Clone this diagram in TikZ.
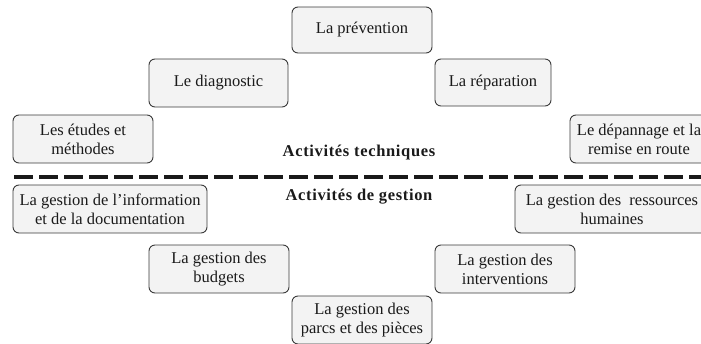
\documentclass[tikz,border=0pt]{standalone}
\usepackage{fontspec}
\setmainfont{Liberation Serif}
\definecolor{boxfill}{HTML}{F3F3F3}
\definecolor{boxline}{HTML}{3A3A3A}
\definecolor{txt}{HTML}{1A1A1A}
\begin{document}
\begin{tikzpicture}[x=1pt,y=-1pt,
  box/.style={draw=boxline, line width=0.9pt, fill=boxfill, rounded corners=6pt,
    align=center, inner sep=0pt, text=txt,
    font=\fontsize{16.5}{19}\selectfont},
  cat/.style={text=txt, font=\fontsize{16.5}{19}\selectfont\bfseries\addfontfeature{LetterSpace=4}},
  sep/.style={line width=3.2pt, dash pattern=on 19pt off 6pt, draw=black!90}]
\useasboundingbox (0,0) rectangle (701,343);
\begin{scope}
\clip (0,0) rectangle (701,343);
\node[box, minimum width=140pt, minimum height=46pt] (prev) at (362,30) {La prévention};
\node[box, minimum width=139pt, minimum height=48pt] (diag) at (218.5,83) {Le diagnostic};
\node[box, minimum width=116pt, minimum height=47pt] (rep) at (493,82.5) {La réparation};
\node[box, minimum width=140pt, minimum height=48pt] (etud) at (83,139) {Les études et\\méthodes};
\node[box, minimum width=138pt, minimum height=48pt] (dep) at (639,139) {Le dépannage et la\\remise en route};
\node[box, minimum width=194pt, minimum height=48pt] (info) at (110,209) {La gestion de l’information\\et de la documentation};
\node[box, minimum width=194pt, minimum height=48pt] (rh) at (612,209) {La gestion des\ \ ressources\\humaines};
\node[box, minimum width=140pt, minimum height=48pt] (budg) at (219,269) {La gestion des\\budgets};
\node[box, minimum width=140pt, minimum height=48pt] (interv) at (505,269) {La gestion des\\interventions};
\node[box, minimum width=140pt, minimum height=48pt] (parcs) at (362,320) {La gestion des\\parcs et des pièces};
\coordinate (sl) at (14,177);
\coordinate (sr) at (705,177);
\draw[sep] (sl) -- (sr);
\node[cat] (tech) at (359,153) {Activités techniques};
\node[cat] (gest) at (359,197) {Activités de gestion};
\end{scope}
\end{tikzpicture}
\end{document}
